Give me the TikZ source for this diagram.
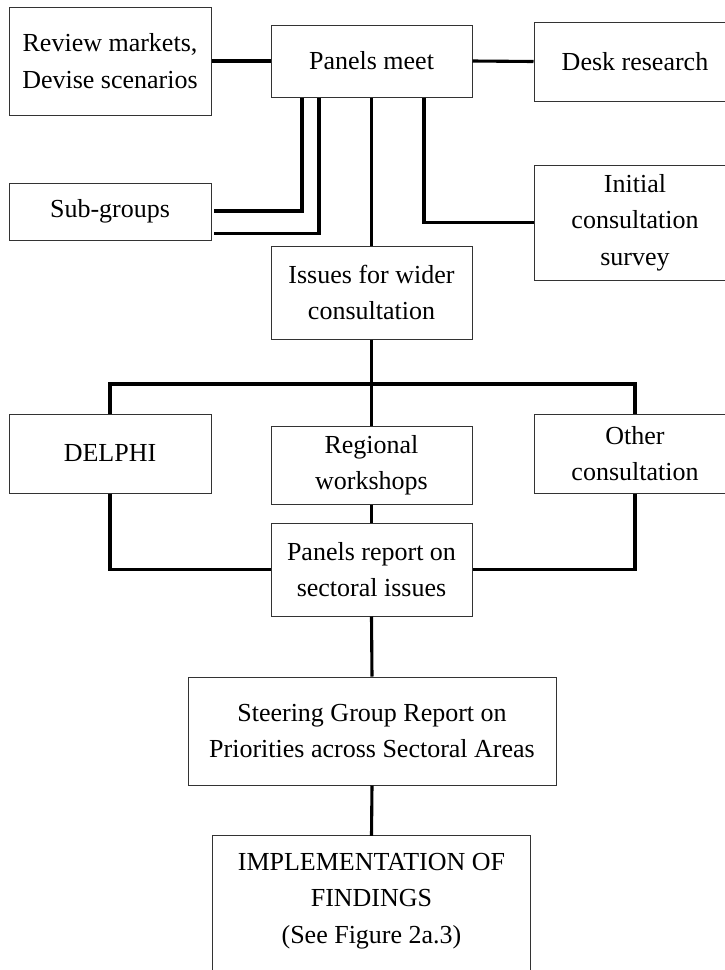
\documentclass[tikz,border=0pt]{standalone}
\usepackage{fontspec}
\setmainfont{Liberation Serif}
\begin{document}
\begin{tikzpicture}[x=1pt,y=-1pt,
  box/.style={draw=black!80, line width=1pt, rectangle, align=center,
    inner sep=0pt, font=\fontsize{26}{36.5}\selectfont},
  plain/.style={rectangle, align=center, inner sep=0pt,
    font=\fontsize{26}{36.5}\selectfont},
  conn/.style={line width=3.1pt, line cap=butt, line join=miter}]
\clip (0,0) rectangle (725,970);
\fill[white] (0,0) rectangle (725,970);

% top row
\node[box, minimum width=202pt, minimum height=108pt] (rev) at (110,61)
  {Review markets,\\Devise scenarios};
\node[box, minimum width=201pt, minimum height=72pt] (pm) at (371.5,61)
  {Panels meet};
\node[box, minimum width=202pt, minimum height=79pt] (desk) at (635,61.5)
  {Desk research};

% second row
\node[box, minimum width=202pt, minimum height=57pt] (sub) at (110,211.5)
  {Sub-groups};
\node[box, minimum width=202pt, minimum height=115pt] (ini) at (635,222.5)
  {Initial\\consultation\\survey};
\node[box, minimum width=201pt, minimum height=93pt] (iss) at (371.5,292.5)
  {Issues for wider\\consultation};

% consultation row
\node[box, minimum width=202pt, minimum height=79pt] (del) at (110,453.5)
  {DELPHI};
\node[box, minimum width=201pt, minimum height=78pt] (reg) at (371.5,465)
  {Regional\\workshops};
\node[box, minimum width=202pt, minimum height=79pt] (oth) at (635,453.5)
  {Other\\consultation};

% reporting
\node[box, minimum width=201pt, minimum height=93pt] (rep) at (371.5,569.5)
  {Panels report on\\sectoral issues};
\node[box, minimum width=368pt, minimum height=108pt] (ste) at (372,731)
  {Steering Group Report on\\Priorities across Sectoral Areas};

% implementation box, open at the foot of the page
\node[plain, minimum width=317pt, minimum height=130pt] (imp) at (371.5,901)
  {IMPLEMENTATION OF\\FINDINGS\\(See Figure 2a.3)};
\draw[draw=black!80, line width=1pt]
  ([yshift=-30pt]imp.south west) -- (imp.north west) -- (imp.north east)
  -- ([yshift=-30pt]imp.south east);

% helper coordinates for routed connectors
\coordinate (s1) at (302,211);
\coordinate (s2) at (319,233.5);
\coordinate (i1) at (424,222.5);
\coordinate (br) at (371.5,384);

% connectors
\draw[conn] (rev.east) -- (pm.west);
\draw[conn] (pm.east) -- (desk.west);
\draw[conn] (pm.south -| s1) |- ([xshift=2pt]sub.east |- s1);
\draw[conn] (pm.south -| s2) |- ([xshift=2pt]sub.east |- s2);
\draw[conn] (pm.south -| i1) |- (ini.west);
\draw[conn] (pm.south) -- (iss.north);
\draw[conn] (iss.south) -- (reg.north);
\draw[conn] (del.north) -- (del.north |- br) -- (oth.north |- br) -- (oth.north);
\draw[conn] (del.south) |- (rep.west);
\draw[conn] (oth.south) |- (rep.east);
\draw[conn] (reg.south) -- (rep.north);
\draw[conn] (rep.south) -- (ste.north);
\draw[conn] (ste.south) -- (imp.north);
\end{tikzpicture}
\end{document}
